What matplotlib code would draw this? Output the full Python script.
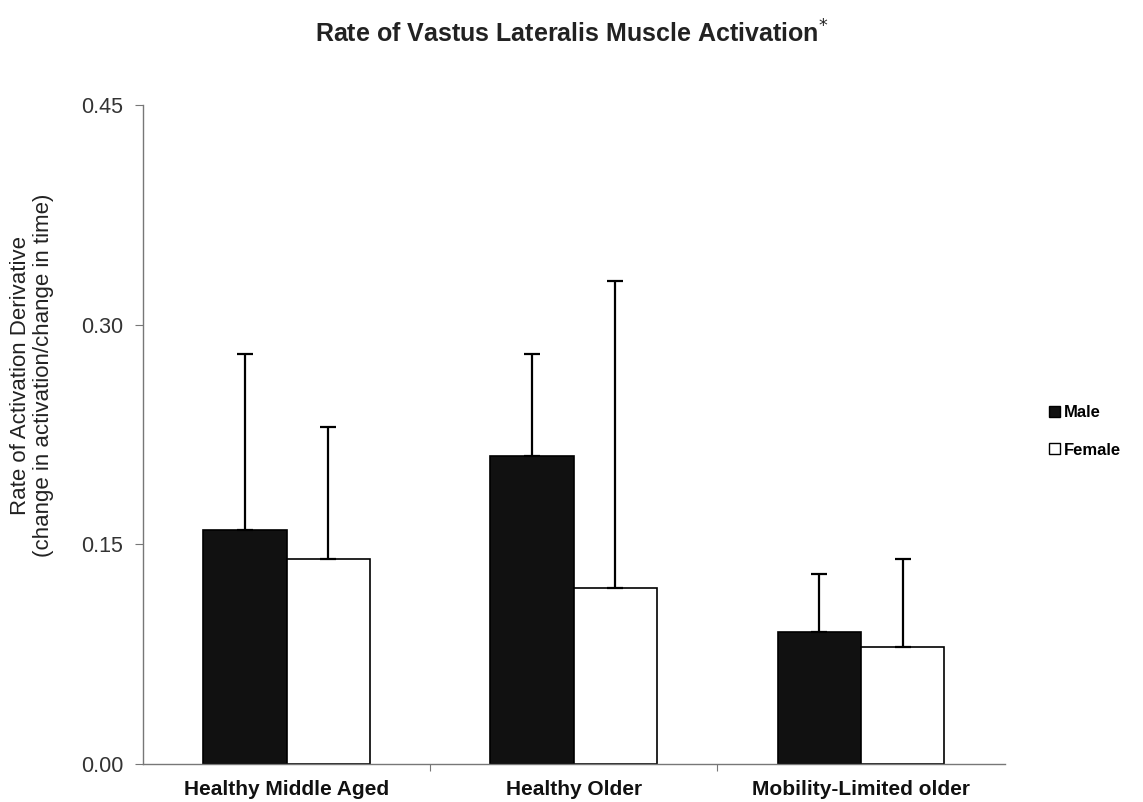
import matplotlib
matplotlib.use("Agg")
import matplotlib.pyplot as plt
from matplotlib.patches import Patch
import numpy as np

plt.rcParams['font.family'] = ['Liberation Sans', 'DejaVu Sans']

# group means and upper SD for each sex
groups = ["Healthy Middle Aged", "Healthy Older", "Mobility-Limited older"]
male_mean = [0.16, 0.21, 0.09]
male_sd = [0.12, 0.07, 0.04]
female_mean = [0.14, 0.12, 0.08]
female_sd = [0.09, 0.21, 0.06]
yticks = [0.00, 0.15, 0.30, 0.45]

fig = plt.figure(figsize=(11.43, 8.02), dpi=100)
ax = fig.add_axes([0.125, 0.0474, 0.754, 0.8216])

x = np.arange(len(groups))
w = 0.29
err_kw = dict(ecolor='black', elinewidth=1.6, capsize=6, capthick=1.6)
ax.bar(x - w / 2, male_mean, w, color='#111111', edgecolor='black', linewidth=1.2,
       yerr=[np.zeros(3), male_sd], error_kw=err_kw, label='Male')
ax.bar(x + w / 2, female_mean, w, color='white', edgecolor='black', linewidth=1.2,
       yerr=[np.zeros(3), female_sd], error_kw=err_kw, label='Female')

ax.set_xlim(-0.5, 2.5)
ax.set_ylim(0, 0.45)
ax.set_yticks(yticks)
ax.set_yticklabels([f"{v:.2f}" for v in yticks], fontsize=15.5, color='#333333')
ax.set_xticks([0.5, 1.5])
ax.set_xticklabels([])
ax.tick_params(axis='x', length=5, color='#777777')
ax.tick_params(axis='y', length=6, color='#777777', pad=8)
for i, g in enumerate(groups):
    ax.text(i, -0.011, g, ha='center', va='top', fontsize=15, fontweight='bold',
            color='#111111', transform=ax.transData)

for s in ['top', 'right']:
    ax.spines[s].set_visible(False)
for s in ['left', 'bottom']:
    ax.spines[s].set_color('#777777')
    ax.spines[s].set_linewidth(1.0)

# y axis title sits a bit above the middle of the axis
fig.text(0.028, 0.532, "Rate of Activation Derivative\n(change in activation/change in time)",
         rotation=90, ha='center', va='center', fontsize=16, linespacing=1.1,
         color='#222222')

fig.text(0.5, 0.957, r"Rate of Vastus Lateralis Muscle Activation$^{*}$",
         ha='center', va='center', fontsize=18, fontweight='bold', color='#222222')

handles = [Patch(facecolor='#111111', edgecolor='black', label='Male'),
           Patch(facecolor='white', edgecolor='black', label='Female')]
fig.legend(handles=handles, loc='center left', bbox_to_anchor=(0.905, 0.462),
           frameon=False, handlelength=0.65, handleheight=0.65, handletextpad=0.2,
           labelspacing=1.35, prop=dict(size=12, weight='bold'))

fig.savefig("out.png", dpi=100)
